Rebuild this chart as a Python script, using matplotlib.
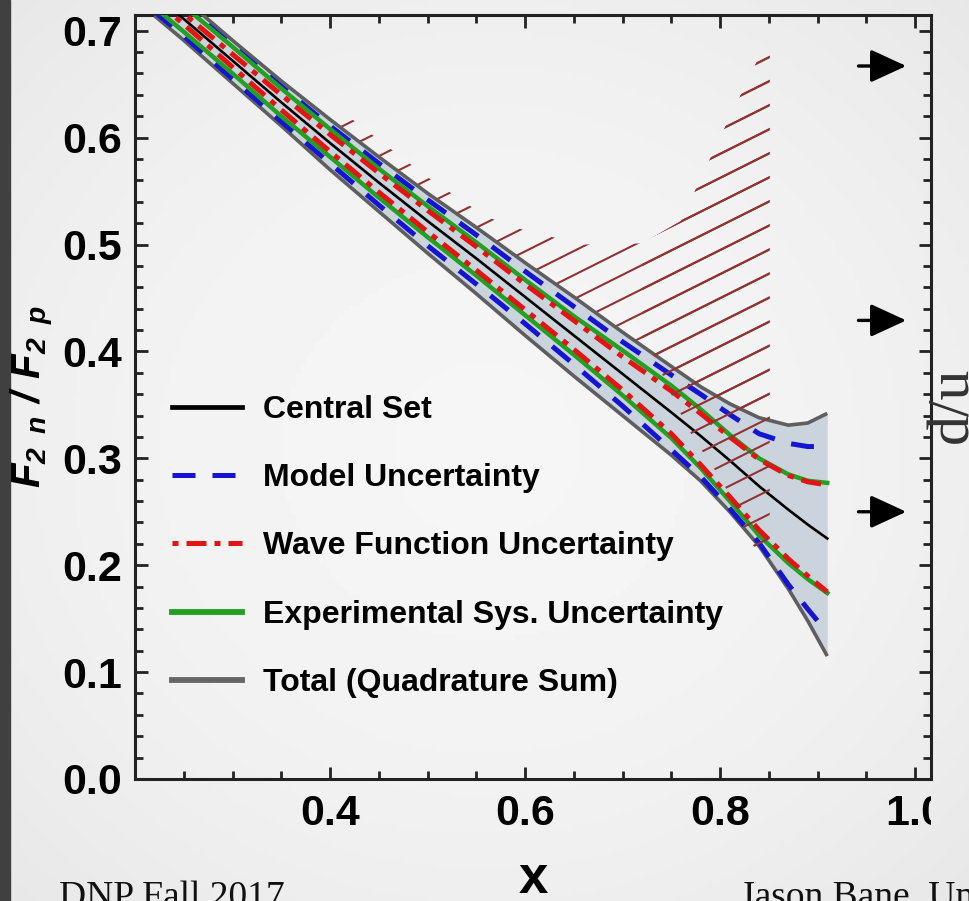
import matplotlib
matplotlib.use('Agg')
import matplotlib.pyplot as plt
import numpy as np
from matplotlib.lines import Line2D
from matplotlib.patches import Polygon, Rectangle
from matplotlib.collections import LineCollection
from matplotlib.ticker import MultipleLocator, FixedLocator

plt.rcParams['font.family'] = ['Liberation Sans', 'DejaVu Sans']
plt.rcParams['mathtext.default'] = 'regular'

# curves
x_vals = [0.22, 0.25, 0.30, 0.35, 0.40, 0.45, 0.50, 0.55, 0.60, 0.65, 0.70,
          0.75, 0.78, 0.81, 0.84, 0.87, 0.89, 0.91]
central = [0.734, 0.711, 0.672, 0.633, 0.595, 0.558, 0.522, 0.487, 0.451, 0.415, 0.379,
           0.343, 0.321, 0.298, 0.274, 0.252, 0.238, 0.225]
total_up = [0.753, 0.730, 0.691, 0.653, 0.617, 0.582, 0.548, 0.516, 0.483, 0.451, 0.418,
            0.386, 0.367, 0.351, 0.338, 0.331, 0.333, 0.342]
total_lo = [0.714, 0.691, 0.651, 0.611, 0.570, 0.531, 0.492, 0.454, 0.415, 0.377, 0.340,
            0.303, 0.279, 0.250, 0.218, 0.178, 0.148, 0.115]
model_up = [0.748, 0.725, 0.686, 0.648, 0.611, 0.576, 0.542, 0.509, 0.475, 0.442, 0.409,
            0.378, 0.360, 0.341, 0.323, 0.314, 0.311, 0.311]
model_lo = [0.718, 0.695, 0.655, 0.615, 0.576, 0.537, 0.499, 0.463, 0.426, 0.388, 0.349,
            0.308, 0.283, 0.253, 0.221, 0.182, 0.159, 0.137]
wf_up = [0.739, 0.716, 0.678, 0.640, 0.603, 0.567, 0.532, 0.498, 0.463, 0.429, 0.395,
         0.363, 0.342, 0.320, 0.299, 0.284, 0.278, 0.275]
wf_lo = [0.729, 0.706, 0.666, 0.626, 0.587, 0.549, 0.512, 0.476, 0.439, 0.402, 0.364,
         0.323, 0.294, 0.264, 0.233, 0.206, 0.190, 0.175]
exp_up = [0.746, 0.723, 0.685, 0.646, 0.608, 0.571, 0.536, 0.502, 0.467, 0.433, 0.401,
          0.368, 0.346, 0.322, 0.300, 0.285, 0.279, 0.277]
exp_lo = [0.722, 0.699, 0.660, 0.620, 0.582, 0.544, 0.507, 0.471, 0.434, 0.397, 0.359,
          0.319, 0.291, 0.260, 0.228, 0.202, 0.187, 0.174]

# hatched region (older extraction)
hatch_top_x = [0.225, 0.25, 0.30, 0.35, 0.40, 0.45, 0.50, 0.56, 0.60, 0.66, 0.72,
               0.76, 0.80, 0.842, 0.851]
hatch_top = [0.745, 0.738, 0.701, 0.666, 0.633, 0.598, 0.563, 0.526, 0.513, 0.500, 0.501,
             0.522, 0.600, 0.679, 0.681]
hatch_low_x = [0.225, 0.25, 0.30, 0.35, 0.40, 0.50, 0.60, 0.70, 0.72, 0.73, 0.756,
               0.772, 0.80, 0.817, 0.831, 0.851]
hatch_low = [0.706, 0.683, 0.643, 0.640, 0.605, 0.535, 0.470, 0.410, 0.405, 0.400, 0.348,
             0.320, 0.282, 0.254, 0.221, 0.205]

# arrows on the right: F2n/F2p for d/u = 1/2, 1/5, 0
arrow_levels = [0.667, 0.429, 0.250]

labels = ['Central Set', 'Model Uncertainty', 'Wave Function Uncertainty',
          'Experimental Sys. Uncertainty', 'Total (Quadrature Sum)']
xtick_vals = [0.4, 0.6, 0.8]
ytick_vals = [0.0, 0.1, 0.2, 0.3, 0.4, 0.5, 0.6, 0.7]

W, H = 970, 901
fig = plt.figure(figsize=(W / 100, H / 100), dpi=100)

# slide background
bg = fig.add_axes([0, 0, 1, 1], zorder=-10)
gx, gy = np.meshgrid(np.linspace(-1, 1, 200), np.linspace(-1, 1, 200))
bg.imshow(0.962 - 0.028 * (gx ** 2 + gy ** 2), cmap='gray', vmin=0, vmax=1,
          aspect='auto', extent=[0, 1, 0, 1])
bg.axis('off')
fig.add_artist(Rectangle((0, 0), 10 / W, 1, transform=fig.transFigure,
                         color='#404040', zorder=-5))

ax = fig.add_axes([135 / W, 1 - 779 / H, 796 / W, 764 / H])
ax.set_facecolor('none')
ax.set_xlim(0.2, 1.0164)
ax.set_ylim(0, 0.7147)

# hatch lines, clipped to the region
slope = 0.456
cs = 0.383 + 0.0225 * np.arange(-45, 20)
segs = [[(0.2, c + slope * (0.2 - 0.851)), (1.0, c + slope * (1.0 - 0.851))] for c in cs]

verts_a = list(zip(hatch_top_x, hatch_top)) + list(zip(hatch_low_x[::-1], hatch_low[::-1]))
poly_a = Polygon(verts_a, closed=True, fill=False, edgecolor='none')
ax.add_patch(poly_a)
lc_a = LineCollection(segs, colors='#8f3434', linewidths=1.5, zorder=1.5)
ax.add_collection(lc_a)
lc_a.set_clip_path(poly_a)

top_b = [(x, y) for x, y in zip(hatch_top_x, hatch_top) if x >= 0.72]
low_b = [(x, y) for x, y in zip(hatch_low_x, hatch_low) if x >= 0.72]
poly_b = Polygon(top_b + low_b[::-1], closed=True, fill=False, edgecolor='none')
ax.add_patch(poly_b)
lc_b = LineCollection(segs, colors='#8f3434', linewidths=1.5, zorder=6)
ax.add_collection(lc_b)
lc_b.set_clip_path(poly_b)

# band and curves
ax.fill_between(x_vals, total_lo, total_up, color='#cbd4dd', lw=0, zorder=2)
grey_kw = dict(color='#5e5e5e', lw=2.6, zorder=3, solid_capstyle='butt')
ax.plot(x_vals, total_up, **grey_kw)
ax.plot(x_vals, total_lo, **grey_kw)
blue_kw = dict(color='#1414d2', lw=3.6, ls=(0, (4.6, 3.4)), zorder=4)
ax.plot(x_vals, model_up, **blue_kw)
ax.plot(x_vals, model_lo, **blue_kw)
green_kw = dict(color='#22a022', lw=3.2, zorder=4.2)
ax.plot(x_vals, exp_up, **green_kw)
ax.plot(x_vals, exp_lo, **green_kw)
red_kw = dict(color='#e21414', lw=3.6, ls=(0, (4, 1.6, 1.2, 1.6)), zorder=4.4)
ax.plot(x_vals, wf_up, **red_kw)
ax.plot(x_vals, wf_lo, **red_kw)
ax.plot(x_vals, central, color='black', lw=1.9, zorder=5)

# arrows
for lev in arrow_levels:
    ax.annotate('', xy=(0.991, lev), xytext=(0.942, lev),
                arrowprops=dict(arrowstyle='-|>,head_length=1.0,head_width=0.46',
                                color='black', lw=2.4, mutation_scale=22,
                                shrinkA=0, shrinkB=0))

# legend
handles = [
    Line2D([], [], color='black', lw=3.4),
    Line2D([], [], color='#1414d2', lw=3.6, ls=(0, (4.6, 3.4))),
    Line2D([], [], color='#e21414', lw=3.6, ls=(5.6, (4, 1.6, 1.2, 1.6))),
    Line2D([], [], color='#22a022', lw=4.2),
    Line2D([], [], color='#666666', lw=4.2),
]
ax.legend(handles, labels, loc='upper left', bbox_to_anchor=(0.0465, 0.503),
          frameon=False, borderpad=0, borderaxespad=0, handlelength=2.2,
          handletextpad=0.65, labelspacing=1.2,
          prop=dict(size=23, weight='bold'))

# axes frame and ticks
for s in ax.spines.values():
    s.set_linewidth(2.2)
    s.set_color('#222222')
ax.xaxis.set_major_locator(FixedLocator(xtick_vals + [1.0]))
ax.xaxis.set_minor_locator(MultipleLocator(0.05))
ax.yaxis.set_major_locator(FixedLocator(ytick_vals))
ax.yaxis.set_minor_locator(MultipleLocator(0.02))
ax.set_xticklabels(['%.1f' % v for v in xtick_vals] + [''])
ax.set_yticklabels(['%.1f' % v for v in ytick_vals])
ax.tick_params(which='both', direction='in', top=True, right=True, width=2,
               color='#222222')
ax.tick_params(which='major', length=9)
ax.tick_params(which='minor', length=5.5)
ax.tick_params(axis='x', pad=11, labelsize=31)
ax.tick_params(axis='y', pad=9, labelsize=31)
for t in ax.get_xticklabels() + ax.get_yticklabels():
    t.set_fontweight('bold')

# cut-off 1.0 label at the right edge of the plot image
one = ax.annotate('1.0', xy=(1.0, 0), xycoords=('data', 'axes fraction'),
                  xytext=(0, -11), textcoords='offset points', ha='center', va='top',
                  fontsize=31, fontweight='bold')
one.set_clip_on(True)
one.set_clip_path(Rectangle((0, 0), 931 / W, 1, transform=fig.transFigure))

# axis labels
fig.text(33 / W, 1 - 397 / H, r'$F_{2\ \,n}\ /\ F_{2\ \,p}$', rotation=90, ha='center',
         va='center', fontsize=29, fontweight='bold', style='italic')
fig.text(533 / W, 1 - 879 / H, 'x', ha='center', va='center', fontsize=38,
         fontweight='bold')
fig.text(967 / W, 1 - 405 / H, 'd/u', rotation=90, rotation_mode='anchor',
         ha='center', va='baseline', fontsize=43, family='Liberation Serif',
         color='#333333')

# slide footer
fig.text(59 / W, 1 - 907 / H, 'DNP Fall 2017', ha='left', va='baseline', fontsize=27,
         family='Liberation Serif', color='#111111')
fig.text(740 / W, 1 - 907 / H, 'Jason Bane, University of New Hampshire', ha='left',
         va='baseline', fontsize=27, family='Liberation Serif', color='#111111')

fig.savefig('out.png', dpi=100)
